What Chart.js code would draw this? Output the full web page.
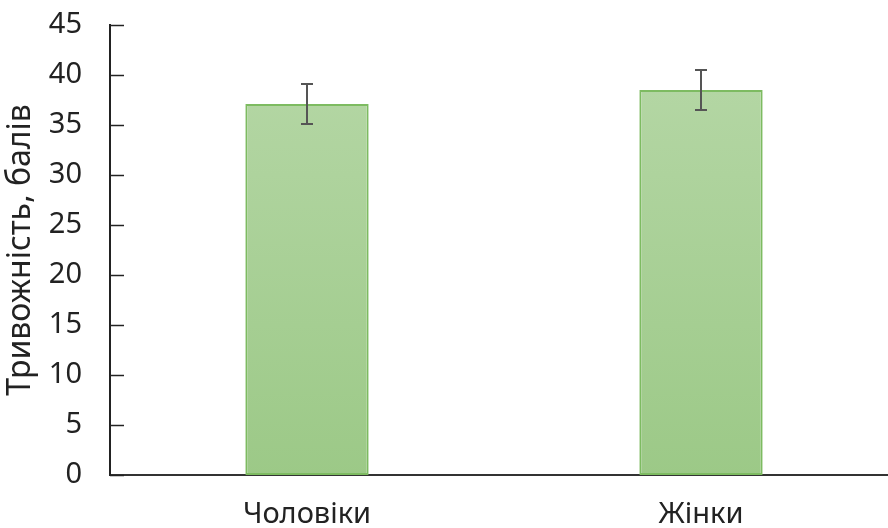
<!DOCTYPE html>
<html>
<head>
<meta charset="utf-8">
<script src="https://cdn.jsdelivr.net/npm/chart.js@4.4.1/dist/chart.umd.min.js"></script>
<style>
  html, body { margin: 0; padding: 0; background: #fff; overflow: hidden; }
  #wrap { width: 898px; height: 528px; }
</style>
</head>
<body>
<div id="wrap"><canvas id="anxiety" width="898" height="528"></canvas></div>
<script>
const categories = ['Чоловіки', 'Жінки'];
const meanScores = [37.1, 38.5];
const errorSizes = [2.0, 2.0];
const yTicks = [0, 5, 10, 15, 20, 25, 30, 35, 40, 45];

const FONT = '"Noto Sans", "DejaVu Sans", sans-serif';

// error bars + inward ticks on the value axis
const extras = {
  id: 'extras',
  afterDatasetsDraw(chart) {
    const ctx = chart.ctx;
    const y = chart.scales.y;
    const meta = chart.getDatasetMeta(0);
    ctx.save();
    ctx.strokeStyle = '#555';
    ctx.lineWidth = 2;
    meta.data.forEach((bar, i) => {
      const top = y.getPixelForValue(meanScores[i] + errorSizes[i]);
      const bot = y.getPixelForValue(meanScores[i] - errorSizes[i]);
      const cx = bar.x;
      ctx.beginPath();
      ctx.moveTo(cx, top); ctx.lineTo(cx, bot);
      ctx.moveTo(cx - 6, top); ctx.lineTo(cx + 6, top);
      ctx.moveTo(cx - 6, bot); ctx.lineTo(cx + 6, bot);
      ctx.stroke();
    });
    ctx.strokeStyle = '#222';
    ctx.lineWidth = 1.5;
    y.ticks.forEach(t => {
      const py = Math.round(y.getPixelForValue(t.value)) + 0.5;
      ctx.beginPath();
      ctx.moveTo(y.right, py);
      ctx.lineTo(y.right + 14, py);
      ctx.stroke();
    });
    ctx.restore();
  }
};

const ctx = document.getElementById('anxiety');
new Chart(ctx, {
  type: 'bar',
  data: {
    labels: categories,
    datasets: [{
      data: meanScores,
      backgroundColor(c) {
        const area = c.chart.chartArea;
        if (!area) return '#a8d096';
        const g = c.chart.ctx.createLinearGradient(0, area.top, 0, area.bottom);
        g.addColorStop(0, '#b7d8a8');
        g.addColorStop(1, '#9cc987');
        return g;
      },
      borderColor: '#7dbb61',
      borderWidth: 2,
      borderSkipped: false,
      categoryPercentage: 0.313,
      barPercentage: 1
    }]
  },
  plugins: [extras],
  options: {
    responsive: false,
    animation: false,
    events: [],
    layout: { padding: { top: 25, right: 0, left: 0, bottom: 0 } },
    plugins: { legend: { display: false }, tooltip: { enabled: false } },
    scales: {
      x: {
        grid: { display: false },
        border: { display: true, color: '#333', width: 2 },
        ticks: { color: '#222', font: { family: FONT, size: 29 }, padding: 14 },
        afterFit(s) { s.height = 53; s.paddingLeft = 0; s.paddingRight = 0; }
      },
      y: {
        min: 0,
        max: 45,
        afterBuildTicks(s) { s.ticks = yTicks.map(v => ({ value: v })); },
        grid: { display: false },
        border: { display: true, color: '#222', width: 2 },
        ticks: { color: '#222', font: { family: FONT, size: 29 }, padding: 20 },
        title: {
          display: true,
          text: 'Тривожність, балів',
          color: '#222',
          font: { family: FONT, size: 32 },
          padding: { top: 2, bottom: 0 }
        },
        afterFit(s) { s.width = 110; s.paddingTop = 0; s.paddingBottom = 0; }
      }
    }
  }
});
</script>
</body>
</html>
